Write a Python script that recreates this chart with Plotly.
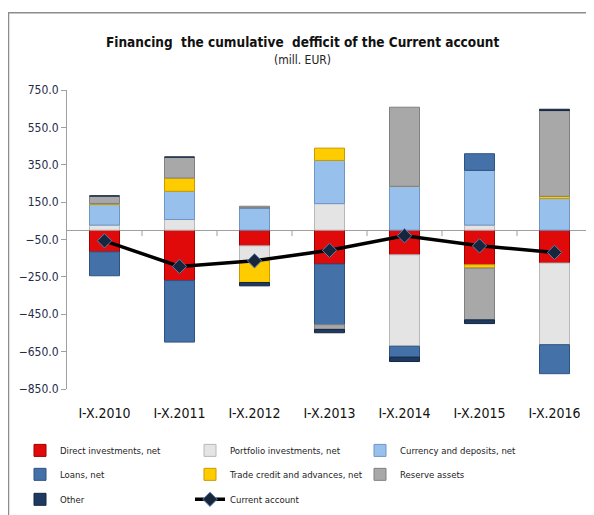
import plotly.graph_objects as go

categories = ["I-X.2010", "I-X.2011", "I-X.2012", "I-X.2013", "I-X.2014", "I-X.2015", "I-X.2016"]
direct = [-116, -270, -84, -181, -132, -185, -176]
portfolio = [27, 57, -80, 142, -489, 27, -437]
currency = [110, 151, 120, 231, 235, 293, 169]
loans = [-128, -329, 0, -325, -59, 89, -155]
trade = [6, 71, -116, 66, 0, -18, 12]
reserve = [40, 112, 8, -25, 423, -277, 459]
other = [0, 0, -18, -18, -23, -20, 7]
current_account = [-57, -194, -164, -108, -30, -84, -119]

FONT = "DejaVu Sans Condensed, Liberation Sans, sans-serif"

series = [
    ("Direct investments, net", direct, "#E00A0A", "#A00000"),
    ("Portfolio investments, net", portfolio, "#E4E4E4", "#B8B8B8"),
    ("Currency and deposits, net", currency, "#98C0EC", "#6E95C4"),
    ("Loans, net", loans, "#4472A8", "#2E5380"),
    ("Trade credit and advances, net", trade, "#FFCC00", "#C89B00"),
    ("Reserve assets", reserve, "#A8A8A8", "#808080"),
    ("Other", other, "#1F3A60", "#14263F"),
]

# page has an 8px body margin; geometry below is in page pixels
OFF = 8
W, H = 594 - OFF, 515 - OFF
PL, PR, PT, PB = 67, 592, 90, 389.5   # plot area in page pixels
L, R, T, B = PL - OFF, W - (PR - OFF), PT - OFF, H - (PB - OFF)
pw, ph = W - L - R, H - T - B

def px_x(x):
    return (x - PL) / pw

def px_y(y):
    return (PB - y) / ph

legend_names = ["legend"] + ["legend%d" % i for i in range(2, 9)]
col_x = [20, 190, 360]
row_y = [451, 475, 500]

fig = go.Figure()
for i, (name, vals, col, lcol) in enumerate(series):
    fig.add_trace(go.Bar(
        x=categories, y=vals, name=name,
        marker=dict(color=col, line=dict(color=lcol, width=1)),
        legend=legend_names[i],
    ))

fig.add_trace(go.Scatter(
    x=categories, y=current_account, name="Current account",
    mode="lines+markers",
    line=dict(color="black", width=3.5),
    marker=dict(symbol="diamond", size=11, color="#17263D",
                line=dict(color="#5B80B0", width=1)),
    legend=legend_names[7],
))

shapes = []
# x-axis tick marks at category boundaries along zero line
for i in range(len(categories)):
    shapes.append(dict(type="line", xref="x", yref="y",
                       x0=i + 0.5, x1=i + 0.5, y0=0, y1=-32,
                       line=dict(color="#A0A0A0", width=1)))
# outer frame (top and left)
shapes.append(dict(type="line", xref="paper", yref="paper",
                   x0=px_x(8), x1=px_x(600), y0=px_y(12.5), y1=px_y(12.5),
                   line=dict(color="#8C8C8C", width=1.5)))
shapes.append(dict(type="line", xref="paper", yref="paper",
                   x0=px_x(8.5), x1=px_x(8.5), y0=px_y(12.5), y1=px_y(520),
                   line=dict(color="#8C8C8C", width=1.5)))

legends = {}
for i, ln in enumerate(legend_names):
    r, c = divmod(i, 3)
    legends[ln] = dict(orientation="h", xanchor="left", yanchor="middle",
                       x=px_x(col_x[c]), y=px_y(row_y[r]),
                       font=dict(family=FONT, size=9.5, color="#222222"),
                       bgcolor="rgba(0,0,0,0)", itemwidth=30)

fig.update_layout(
    width=W, height=H,
    margin=dict(l=L, r=R, t=T, b=B, pad=0, autoexpand=False),
    paper_bgcolor="white", plot_bgcolor="white",
    barmode="relative", bargap=0.6,
    showlegend=True,
    **legends,
    xaxis=dict(showline=False, ticks="", showgrid=False,
               tickfont=dict(family=FONT, size=14, color="#111111"),
               ticklabelstandoff=14, range=[-0.5, 6.5]),
    yaxis=dict(range=[-850, 750], tick0=-850, dtick=200, tickformat=".1f",
               showgrid=False, showline=True, linecolor="#A0A0A0", linewidth=1,
               ticks="outside", ticklen=5, tickcolor="#A0A0A0",
               zeroline=True, zerolinecolor="#A0A0A0", zerolinewidth=1,
               tickfont=dict(family=FONT, size=12, color="#1F2D4A")),
    shapes=shapes,
    annotations=[
        dict(text="<b>Financing\u00a0 the cumulative\u00a0 defficit of the Current account</b>",
             xref="paper", yref="paper", x=px_x(302), y=px_y(42),
             xanchor="center", yanchor="middle", showarrow=False,
             font=dict(family=FONT, size=13.5, color="#111111")),
        dict(text="(mill. EUR)",
             xref="paper", yref="paper", x=px_x(302), y=px_y(60),
             xanchor="center", yanchor="middle", showarrow=False,
             font=dict(family=FONT, size=12, color="#222222")),
    ],
)

fig.write_html("out.html")
